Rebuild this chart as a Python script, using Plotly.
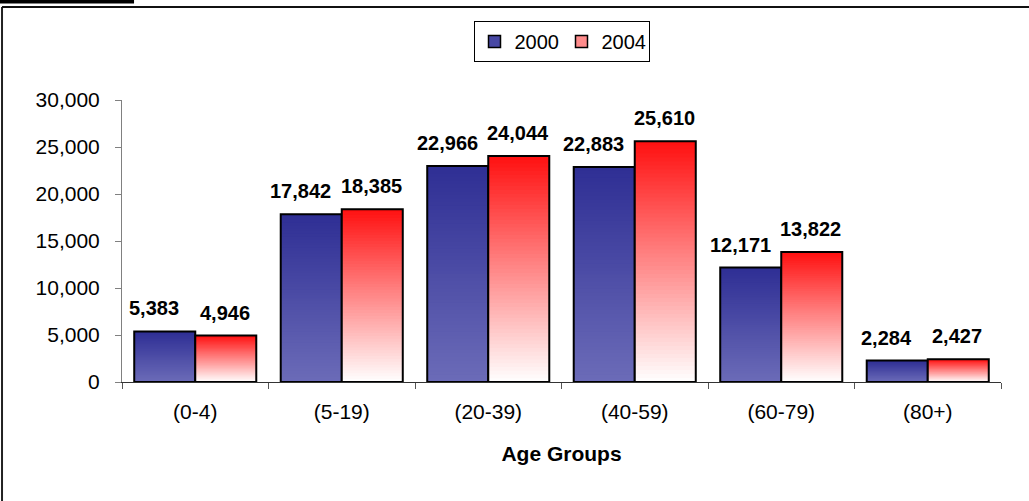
import plotly.graph_objects as go

categories = ["(0-4)", "(5-19)", "(20-39)", "(40-59)", "(60-79)", "(80+)"]
values_2000 = [5383, 17842, 22966, 22883, 12171, 2284]
values_2004 = [4946, 18385, 24044, 25610, 13822, 2427]
series_names = ["2000", "2004"]
y_ticks = [0, 5000, 10000, 15000, 20000, 25000, 30000]

FONT = "Arial, Liberation Sans, sans-serif"
N = 60

def interp(c0, c1, t):
    return "rgb(%d,%d,%d)" % tuple(round(a + (b - a) * t) for a, b in zip(c0, c1))

styles = {
    "2000": dict(bottom=(108, 108, 184), top=(46, 46, 148), legend="rgb(72,72,164)", shift=-41),
    "2004": dict(bottom=(255, 255, 255), top=(255, 16, 16), legend="rgb(255,140,140)", shift=29.5),
}

fig = go.Figure()
annotations = []
for name, vals in zip(series_names, [values_2000, values_2004]):
    st = styles[name]
    # gradient made of overlapping bar layers (each layer covers from its base to the top)
    for k in range(N):
        fig.add_trace(go.Bar(
            x=categories,
            y=[v * (N - k) / N for v in vals],
            base=[v * k / N for v in vals],
            offsetgroup=name,
            marker=dict(color=interp(st["bottom"], st["top"], (k + 0.5) / N), line=dict(width=0)),
            showlegend=False, hoverinfo="skip",
        ))
    # outline
    fig.add_trace(go.Bar(
        x=categories, y=vals, offsetgroup=name,
        marker=dict(color="rgba(0,0,0,0)", line=dict(color="black", width=2)),
        showlegend=False, name=name,
    ))
    # legend entry
    fig.add_trace(go.Bar(
        x=categories, y=[None] * len(categories), offsetgroup=name, name=name,
        marker=dict(color=st["legend"], line=dict(color="black", width=1.5)),
        showlegend=True, hoverinfo="skip",
    ))
    for c, v in zip(categories, vals):
        annotations.append(dict(
            x=c, y=v, xref="x", yref="y", text=f"{v:,}", showarrow=False,
            xshift=st["shift"], yanchor="bottom", yshift=10,
            font=dict(family=FONT, size=20, color="black", weight="bold"),
        ))

fig.update_layout(
    width=1029, height=501,
    margin=dict(l=122, r=28, t=100, b=119),
    paper_bgcolor="white", plot_bgcolor="white",
    barmode="group", bargap=0.167, bargroupgap=0,
    font=dict(family=FONT, size=21, color="black"),
    showlegend=True,
    legend=dict(
        orientation="h", x=0.5, xanchor="center", y=1.2074, yanchor="middle",
        bordercolor="black", borderwidth=1, font=dict(size=20, family=FONT),
        bgcolor="white", itemwidth=30, entrywidth=42, traceorder="normal",
    ),
    annotations=annotations,
    shapes=[
        dict(type="line", xref="paper", yref="paper", x0=-0.1365, x1=-0.1365, y0=-0.5, y1=1.3298,
             line=dict(color="#222", width=2)),
        dict(type="line", xref="paper", yref="paper", x0=-0.1365, x1=1.2, y0=1.3298, y1=1.3298,
             line=dict(color="#111", width=2)),
        dict(type="rect", xref="paper", yref="paper", x0=-0.15, x1=0.0137, y0=1.3425, y1=1.40,
             fillcolor="black", line=dict(width=0)),
    ],
)
fig.update_xaxes(
    type="category", tickson="boundaries", ticks="outside", ticklen=6, tickcolor="#555",
    showline=True, linecolor="#333", linewidth=1, showgrid=False,
    tickfont=dict(size=21, family=FONT), ticklabelstandoff=11,
    title=dict(text="<b>Age Groups</b>", font=dict(size=21, family=FONT), standoff=24),
)
fig.update_yaxes(
    range=[0, 30000], tickvals=y_ticks, tickformat=",", ticks="outside", ticklen=6, tickcolor="#808080",
    showline=True, linecolor="#808080", linewidth=1, showgrid=False, zeroline=False,
    tickfont=dict(size=21, family=FONT), ticklabelstandoff=11,
)

fig.write_html("out.html", post_script="document.body.style.margin='0';",
               config={"displayModeBar": False})
